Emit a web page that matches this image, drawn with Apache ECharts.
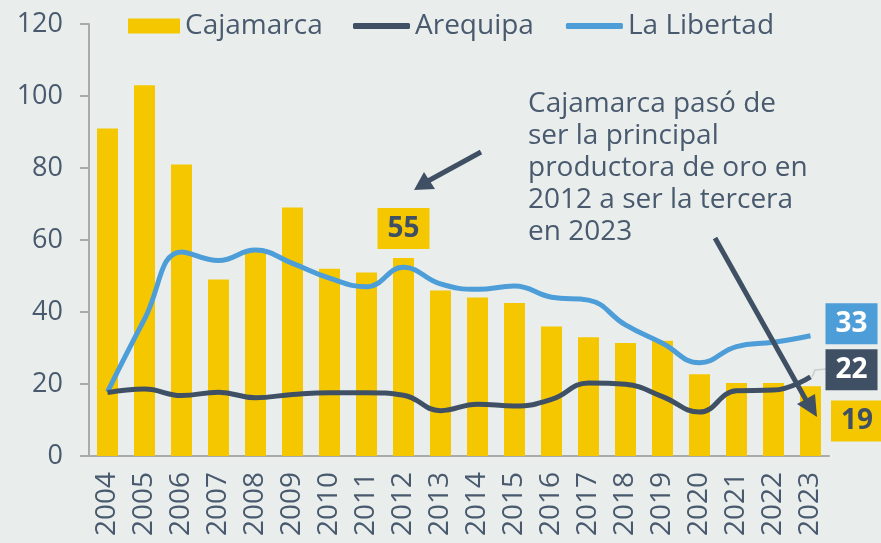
<!DOCTYPE html>
<html>
<head>
<meta charset="UTF-8">
<title>Producción de oro por región</title>
<script src="https://cdn.jsdelivr.net/npm/echarts@6/dist/echarts.min.js"></script>
<style>
  html, body { margin: 0; padding: 0; background: #e9eeed; }
  #main { width: 881px; height: 543px; }
</style>
</head>
<body>
<div id="main"></div>
<script type="text/javascript">
  // datos
  var years = ['2004','2005','2006','2007','2008','2009','2010','2011','2012','2013',
               '2014','2015','2016','2017','2018','2019','2020','2021','2022','2023'];
  var cajamarca = [91, 103, 81, 49, 57, 69, 52, 51, 55, 46, 44, 42.5, 36, 33, 31.4, 32, 22.7, 20.3, 20.3, 19.4];
  var arequipa = [17.6, 18.6, 16.8, 17.7, 16.2, 17.1, 17.6, 17.6, 16.9, 12.6, 14.4, 13.9, 15.7, 20.3, 19.9, 16.5, 12.2, 18.1, 18.3, 22];
  var laLibertad = [17.8, 38, 56.7, 54.3, 57.2, 53.5, 49.4, 47, 52.4, 47.8, 46.3, 47.2, 44.1, 43.3, 36.4, 31.3, 25.9, 30.4, 31.6, 33.4];
  var nota = 'Cajamarca pasó de\nser la principal\nproductora de oro en\n2012 a ser la tercera\nen 2023';

  var yellow = '#f5c700', navy = '#405064', blue = '#4d9dd8', txt = '#4a5a6e';
  var font = 'Open Sans';

  var myChart = echarts.init(document.getElementById('main'));

  function boxLabel(text, bg, color, extra) {
    var l = { show: true, formatter: text, backgroundColor: bg, color: color,
      fontWeight: 'bold', fontSize: 28, fontFamily: font, padding: [7, 10, 6, 10] };
    for (var k in extra) l[k] = extra[k];
    return l;
  }

  var barData = cajamarca.map(function (v, i) {
    var d = { value: v };
    if (years[i] === '2012') d.label = boxLabel('55', yellow, navy, { position: 'top', distance: 9 });
    if (i === cajamarca.length - 1) d.label = boxLabel('19', yellow, navy, { position: 'right', distance: 10 });
    return d;
  });

  var legendText = { fontFamily: font, fontSize: 28, color: txt };

  var option = {
    backgroundColor: '#e9eeed',
    animation: false,
    grid: { left: 89, right: 52, top: 24, bottom: 87 },
    legend: [
      { left: 128, top: 12, padding: 0, itemWidth: 52, itemHeight: 15, itemGap: 5, textStyle: legendText,
        data: [{ name: 'Cajamarca', icon: 'rect' }] },
      { left: 353, top: 12, padding: 0, itemGap: 32, itemWidth: 57, itemHeight: 6, textStyle: legendText,
        data: [{ name: 'Arequipa', icon: 'roundRect' }, { name: 'La Libertad', icon: 'roundRect' }] }
    ],
    xAxis: {
      type: 'category',
      data: years,
      axisLine: { lineStyle: { color: '#aaaaaa', width: 2 } },
      axisTick: { lineStyle: { color: '#aaaaaa', width: 2 }, length: 7 },
      axisLabel: { rotate: 90, fontFamily: font, fontSize: 28, color: txt, margin: 16 }
    },
    yAxis: {
      type: 'value', min: 0, max: 120, interval: 20,
      splitLine: { show: false },
      axisLine: { show: true, lineStyle: { color: '#aaaaaa', width: 2 } },
      axisTick: { show: true, length: 9, lineStyle: { color: '#aaaaaa', width: 2 } },
      axisLabel: { fontFamily: font, fontSize: 27, color: txt, margin: 26 }
    },
    series: [
      {
        name: 'Cajamarca', type: 'bar', data: barData, barWidth: 21,
        itemStyle: { color: yellow }, z: 1
      },
      {
        name: 'Arequipa', type: 'line', data: arequipa, smooth: 0.45, symbol: 'none',
        lineStyle: { color: navy, width: 5 }, itemStyle: { color: navy }, z: 3,
        endLabel: boxLabel('22', navy, '#ffffff', { offset: [7, -7] })
      },
      {
        name: 'La Libertad', type: 'line', data: laLibertad, smooth: 0.45, symbol: 'none',
        lineStyle: { color: blue, width: 5 }, itemStyle: { color: blue }, z: 2,
        endLabel: boxLabel('33', blue, '#ffffff', { offset: [7, -12] })
      }
    ],
    graphic: [
      { type: 'text', left: 528, top: 88, z: 10,
        style: { text: nota, font: '28px "Open Sans"', fill: txt, lineHeight: 32 } },
      { type: 'polyline', z: 1, shape: { points: [[812, 377], [815, 370], [827, 369]] },
        style: { stroke: '#c8cccc', lineWidth: 1.5, fill: null } },
      { type: 'line', z: 10, shape: { x1: 481, y1: 152, x2: 428, y2: 181 },
        style: { stroke: navy, lineWidth: 5 } },
      { type: 'polygon', z: 10, shape: { points: [[414, 190], [424, 172], [435, 189]] },
        style: { fill: navy } },
      { type: 'line', z: 10, shape: { x1: 715, y1: 238, x2: 806, y2: 400 },
        style: { stroke: navy, lineWidth: 5 } },
      { type: 'polygon', z: 10, shape: { points: [[817, 417], [797, 404], [815, 394]] },
        style: { fill: navy } }
    ]
  };

  myChart.setOption(option);
</script>
</body>
</html>
